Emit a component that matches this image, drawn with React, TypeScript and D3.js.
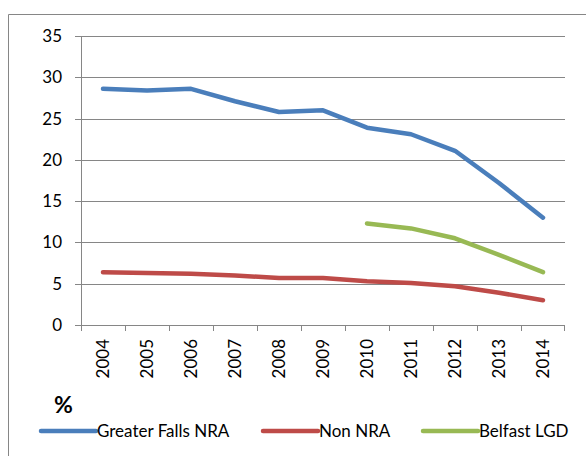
import { scaleBand, scaleLinear, line } from 'd3';

const years = ['2004', '2005', '2006', '2007', '2008', '2009', '2010', '2011', '2012', '2013', '2014'];
const greaterFalls = [28.6, 28.4, 28.6, 27.1, 25.8, 26.0, 23.9, 23.1, 21.1, 17.2, 13.0];
const nonNra = [6.4, 6.3, 6.2, 6.0, 5.7, 5.7, 5.3, 5.1, 4.7, 3.9, 3.0];
const belfastLgd = [null, null, null, null, null, null, 12.3, 11.7, 10.5, 8.5, 6.4];
const yTicks = [0, 5, 10, 15, 20, 25, 30, 35];

const series = [
  { name: 'Greater Falls NRA', values: greaterFalls, color: '#4A7EBB' },
  { name: 'Non NRA', values: nonNra, color: '#BE4B48' },
  { name: 'Belfast LGD', values: belfastLgd, color: '#98B954' },
];

const margin = { top: 36, right: 21, bottom: 131, left: 81 };
const width = 586;
const height = 456;
const innerWidth = width - margin.left - margin.right;
const innerHeight = height - margin.top - margin.bottom;
const font = 'Lato, "Open Sans", sans-serif';
const grid = '#868686';

function App() {
  const xScale = scaleBand().domain(years).range([0, innerWidth]);
  const yScale = scaleLinear().domain([0, 35]).range([innerHeight, 0]);

  const path = line<number | null>()
    .defined(d => d != null)
    .x((_, i) => xScale(years[i])! + xScale.bandwidth() / 2)
    .y(d => yScale(d as number));

  // legend swatch starts
  const legendX = [41, 263, 423];

  return (
    <svg width={width} height={height} style={{ position: 'absolute', left: 0, top: 0 }}>
      <rect x={0} y={0} width={width} height={height} fill='white' />
      <line x1={8.5} x2={width} y1={14.5} y2={14.5} stroke={grid} />
      <line x1={8.5} x2={8.5} y1={14.5} y2={height} stroke={grid} />
      <g transform={`translate(${margin.left}, ${margin.top})`}>
        {yTicks.map(t => (
          <g key={t} transform={`translate(0, ${Math.round(yScale(t)) + 0.5})`}>
            <line x1={-6} x2={t === 0 ? 0 : innerWidth} stroke={grid} />
            <text
              x={-19}
              dy='.35em'
              textAnchor='end'
              fontFamily={font}
              fontSize={17}
              fill='#000'
            >
              {t}
            </text>
          </g>
        ))}
        <line x1={0} x2={innerWidth} y1={innerHeight + 0.5} y2={innerHeight + 0.5} stroke={grid} />
        <line x1={0.5} x2={0.5} y1={0} y2={innerHeight} stroke={grid} />
        {years.map(y => (
          <line
            key={'t' + y}
            x1={Math.round(xScale(y)!) + 0.5}
            x2={Math.round(xScale(y)!) + 0.5}
            y1={innerHeight}
            y2={innerHeight + 6}
            stroke={grid}
          />
        ))}
        <line x1={innerWidth - 0.5} x2={innerWidth - 0.5} y1={innerHeight} y2={innerHeight + 6} stroke={grid} />
        {years.map(y => (
          <text
            key={'l' + y}
            transform={`translate(${xScale(y)! + xScale.bandwidth() / 2}, ${innerHeight + 14}) rotate(-90)`}
            textAnchor='end'
            dy='.35em'
            fontFamily={font}
            fontSize={17}
            fill='#000'
          >
            {y}
          </text>
        ))}
        {series.map(s => (
          <path
            key={s.name}
            d={path(s.values) ?? ''}
            fill='none'
            stroke={s.color}
            strokeWidth={4.5}
            strokeLinecap='round'
            strokeLinejoin='round'
          />
        ))}
      </g>
      <text x={54} y={413} fontFamily={font} fontSize={23} fontWeight='bold' fill='#000'>%</text>
      {series.map((s, i) => (
        <g key={s.name} transform={`translate(${legendX[i]}, 431)`}>
          <line x1={0} x2={55} stroke={s.color} strokeWidth={4.5} strokeLinecap='round' />
          <text x={56} dy='.35em' fontFamily={font} fontSize={17} fill='#000'>{s.name}</text>
        </g>
      ))}
    </svg>
  );
}

export default App;
